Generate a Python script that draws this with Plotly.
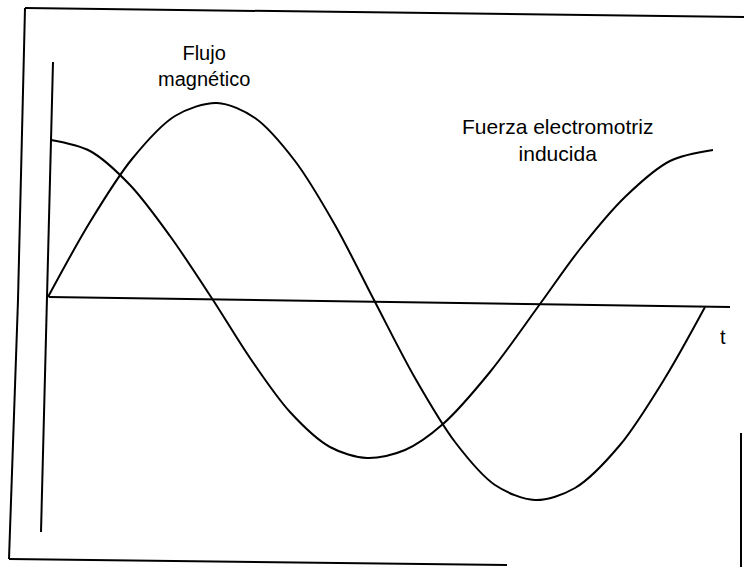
import plotly.graph_objects as go

# Curve: time (arbitrary units from origin) and amplitude (units above the t axis)
seno_t = [0, 42, 84, 127, 169, 207, 247, 287, 326, 367, 407, 447, 487, 527, 572, 617, 657]
seno_v = [0, 75, 138, 181, 194, 179, 136, 72, -3, -81, -145, -188, -203, -191, -148, -81, -10]

coseno_t = [3, 42, 82, 122, 165, 202, 242, 282, 319, 357, 395, 442, 492, 532, 577, 622, 665]
coseno_v = [157, 146, 112, 61, -3, -61, -115, -150, -161, -153, -127, -75, -7, 48, 100, 136, 147]

label_flujo = "Flujo<br>magnético"
label_fem = "Fuerza electromotriz<br>inducida"
label_t = "t"

W, H = 744, 567
FONT = "Liberation Sans, Arial, sans-serif"

def px(x):
    return x / W

def py(y):
    return 1 - y / H

fig = go.Figure()
line_style = dict(color="black", width=2, shape="spline", smoothing=0.9)
fig.add_trace(go.Scatter(x=seno_t, y=seno_v, mode="lines", line=line_style, showlegend=False, hoverinfo="skip"))
fig.add_trace(go.Scatter(x=coseno_t, y=coseno_v, mode="lines", line=line_style, showlegend=False, hoverinfo="skip"))

shapes = []
def seg(x0, y0, x1, y1, w=2):
    shapes.append(dict(type="line", xref="paper", yref="paper",
                       x0=px(x0), y0=py(y0), x1=px(x1), y1=py(y1),
                       line=dict(color="black", width=w)))

# frame (scanned page border)
seg(25, 8, 744, 17)
seg(25, 8, 18, 300)
seg(18, 300, 9, 559)
seg(9, 559, 507, 565)
seg(741, 433, 741, 567)
# axes
seg(53, 62, 41, 532)
seg(49, 297, 730, 307)

annotations = [
    dict(text=label_flujo, x=px(204), y=py(66), xref="paper", yref="paper",
         xanchor="center", yanchor="middle", showarrow=False, align="center",
         font=dict(family=FONT, size=20, color="black")),
    dict(text=label_fem, x=px(557), y=py(140), xref="paper", yref="paper",
         xanchor="center", yanchor="middle", showarrow=False, align="center",
         font=dict(family=FONT, size=21, color="black")),
    dict(text=label_t, x=px(723), y=py(337), xref="paper", yref="paper",
         xanchor="center", yanchor="middle", showarrow=False,
         font=dict(family=FONT, size=20, color="black")),
]

fig.update_layout(
    width=W, height=H,
    margin=dict(l=0, r=0, t=0, b=0),
    paper_bgcolor="white", plot_bgcolor="white",
    xaxis=dict(range=[-48, W - 48], visible=False, fixedrange=True),
    yaxis=dict(range=[297 - H, 297], visible=False, fixedrange=True),
    shapes=shapes,
    annotations=annotations,
)

fig.write_html(
    "out.html",
    config={"displayModeBar": False},
    post_script="document.body.style.margin='0';document.body.style.overflow='hidden';",
)
